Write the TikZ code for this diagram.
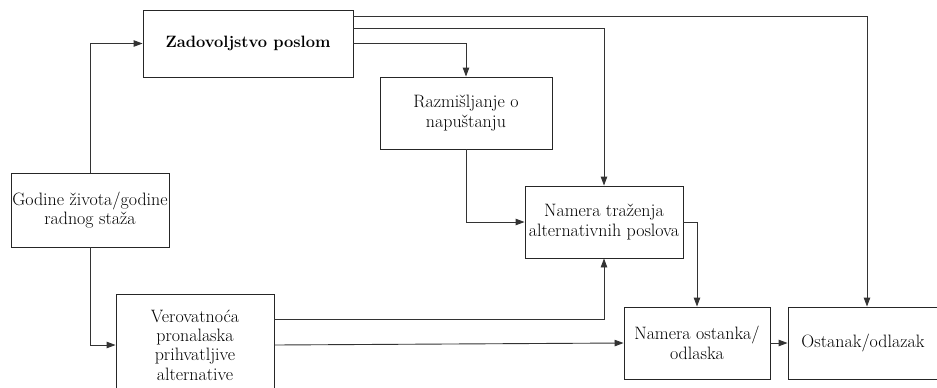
\documentclass[tikz,border=0pt]{standalone}
\usepackage{fontspec}
\usetikzlibrary{arrows.meta,calc}
\begin{document}
\begin{tikzpicture}[x=1bp,y=-1bp,
  box/.style={draw=black!85,line width=0.9bp,rectangle,inner sep=0pt,align=center,
    font=\fontsize{18}{19.5}\selectfont},
  conn/.style={draw=black!80,line width=0.9bp},
  arr/.style={conn,-{Triangle[length=9bp,width=6.5bp]}}]
\useasboundingbox (0,0) rectangle (937,387);
\node[box,minimum width=210bp,minimum height=67bp,font=\fontsize{16.5}{19.5}\selectfont\bfseries] (zad) at (248,43.5) {Zadovoljstvo poslom};
\node[box,minimum width=172bp,minimum height=72bp] (raz) at (466,113) {Razmišljanje o\\napuštanju};
\node[box,minimum width=158bp,minimum height=74bp] (god) at (90,210) {Godine života/godine\\radnog staža};
\node[box,minimum width=158bp,minimum height=72bp] (ntr) at (604,222) {Namera traženja\\alternativnih poslova};
\node[box,minimum width=158bp,minimum height=102bp] (ver) at (195,345) {Verovatnoća\\pronalaska\\prihvatljive\\alternative};
\node[box,minimum width=146bp,minimum height=72bp] (nos) at (697,343) {Namera ostanka/\\odlaska};
\node[box,minimum width=150bp,minimum height=72bp] (ost) at (863,343) {Ostanak/odlazak};
% helper rows
\coordinate (r16) at (0,16);
\coordinate (r28) at (0,28);
\coordinate (r319) at (0,319);
\coordinate (c867) at (867,0);
% connectors
\draw[arr] (god.north) |- (zad.west);
\draw[arr] (god.south) |- (ver.west);
\draw[arr] (zad.east |- r16) -| (ost.north -| c867);
\draw[arr] (zad.east |- r28) -| (ntr.north);
\draw[arr] (zad.east) -| (raz.north);
\draw[arr] (raz.south) |- (ntr.west);
\draw[arr] (ntr.east) -| (nos.north);
\draw[arr] (ver.east |- r319) -| (ntr.south);
\draw[arr] (ver.east) -- (nos.west);
\draw[arr] (nos.east) -- (ost.west);
\end{tikzpicture}
\end{document}
